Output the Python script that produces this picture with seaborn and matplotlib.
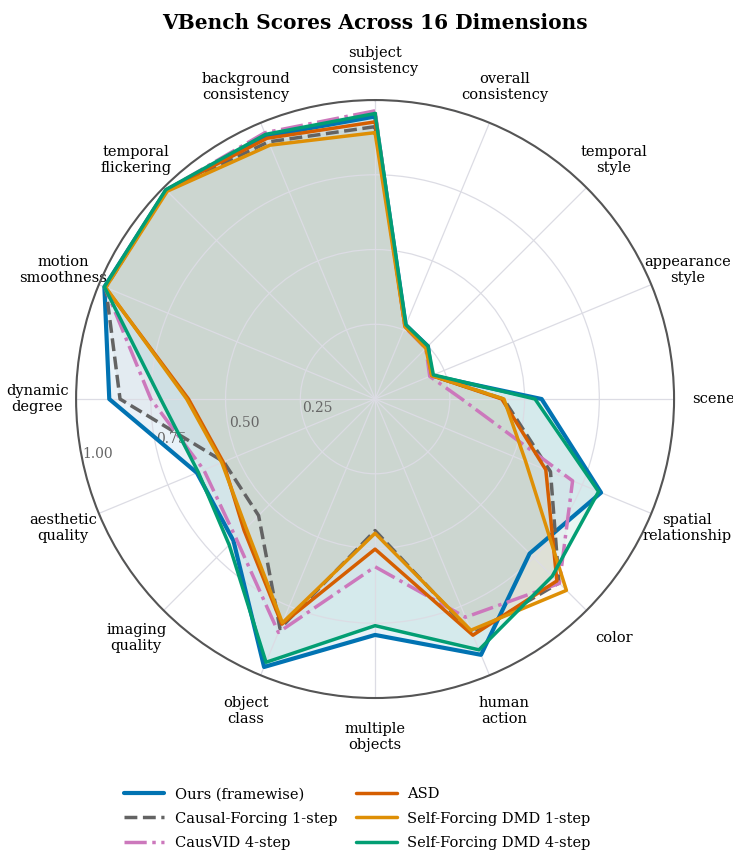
import numpy as np
import matplotlib
matplotlib.use("Agg")
import matplotlib.pyplot as plt
import seaborn as sns

# VBench dimensions, in plotting order (counter-clockwise from the top)
dimensions = [
    "subject consistency", "background consistency", "temporal flickering",
    "motion smoothness", "dynamic degree", "aesthetic quality",
    "imaging quality", "object class", "multiple objects", "human action",
    "color", "spatial relationship", "scene", "appearance style",
    "temporal style", "overall consistency",
]

ours = [0.945, 0.952, 0.988, 0.980, 0.889, 0.645, 0.670, 0.970,
        0.789, 0.926, 0.731, 0.818, 0.557, 0.205, 0.250, 0.268]
causal_forcing = [0.911, 0.931, 0.987, 0.975, 0.853, 0.548, 0.551, 0.831,
                  0.440, 0.850, 0.870, 0.635, 0.430, 0.205, 0.245, 0.265]
causvid = [0.964, 0.964, 0.988, 0.978, 0.750, 0.620, 0.658, 0.845,
           0.561, 0.790, 0.872, 0.715, 0.290, 0.198, 0.240, 0.260]
asd = [0.927, 0.944, 0.988, 0.978, 0.624, 0.550, 0.620, 0.815,
       0.502, 0.855, 0.860, 0.618, 0.424, 0.205, 0.245, 0.262]
sf_dmd_1 = [0.891, 0.919, 0.983, 0.975, 0.630, 0.555, 0.610, 0.810,
            0.449, 0.837, 0.905, 0.545, 0.431, 0.205, 0.240, 0.262]
sf_dmd_4 = [0.955, 0.958, 0.990, 0.980, 0.717, 0.640, 0.690, 0.953,
            0.758, 0.908, 0.838, 0.809, 0.535, 0.211, 0.250, 0.269]

# name, values, colour, line style, line width, fill alpha
series = [
    ("Ours (framewise)", ours, "#0173b2", "-", 3.0, 0.085),
    ("Causal-Forcing 1-step", causal_forcing, "#636363", "--", 2.5, 0.045),
    ("CausVID 4-step", causvid, "#cc78bc", "-.", 2.5, 0.045),
    ("ASD", asd, "#d55e00", "-", 2.5, 0.045),
    ("Self-Forcing DMD 1-step", sf_dmd_1, "#de8f05", "-", 2.5, 0.045),
    ("Self-Forcing DMD 4-step", sf_dmd_4, "#029e73", "-", 2.5, 0.085),
]

r_ticks = [0.25, 0.50, 0.75, 1.00]

sns.set_theme(style="whitegrid")
plt.rcParams["font.family"] = ["DejaVu Serif"]
plt.rcParams["text.color"] = "black"

angles = np.linspace(0, 2 * np.pi, len(dimensions), endpoint=False)
theta = np.append(angles, 2 * np.pi)

fig = plt.figure(figsize=(7.33, 8.5), dpi=100)
ax = fig.add_axes([0.1037, 0.1788, 0.816, 0.7035], polar=True)
ax.set_theta_offset(np.pi / 2)
ax.set_axisbelow("line")

for name, vals, color, ls, lw, fa in series:
    r = np.append(vals, vals[0])
    ax.fill(theta, r, color=color, alpha=fa, zorder=1)
    sns.lineplot(x=theta, y=r, ax=ax, color=color, linestyle=ls,
                 linewidth=lw, label=name, errorbar=None, sort=False,
                 zorder=2)

ax.set_ylim(0, 1)
ax.set_yticks(r_ticks)
ax.set_yticklabels([f"{t:.2f}" for t in r_ticks], color="#666666", fontsize=10)
ax.set_rlabel_position(102)
ax.set_xticks(angles)
ax.set_xticklabels([d.replace(" ", "\n") for d in dimensions], fontsize=10.5,
                   color="black")
ax.tick_params(axis="x", pad=15)
ax.set_xlabel("")
ax.set_ylabel("")
ax.grid(color="#dcdce4", linewidth=0.9)
ax.spines["polar"].set_color("#555555")
ax.spines["polar"].set_linewidth(1.5)

fig.suptitle("VBench Scores Across 16 Dimensions", fontsize=14.5,
             fontweight="bold", x=0.512, y=0.985, color="black")

ax.legend(loc="center", bbox_to_anchor=(0.487, 0.037),
          bbox_transform=fig.transFigure, ncol=2, frameon=False,
          fontsize=10.5, handlelength=2.8, handletextpad=0.7,
          columnspacing=1.3, labelspacing=0.69)

fig.savefig("out.png", dpi=100)
